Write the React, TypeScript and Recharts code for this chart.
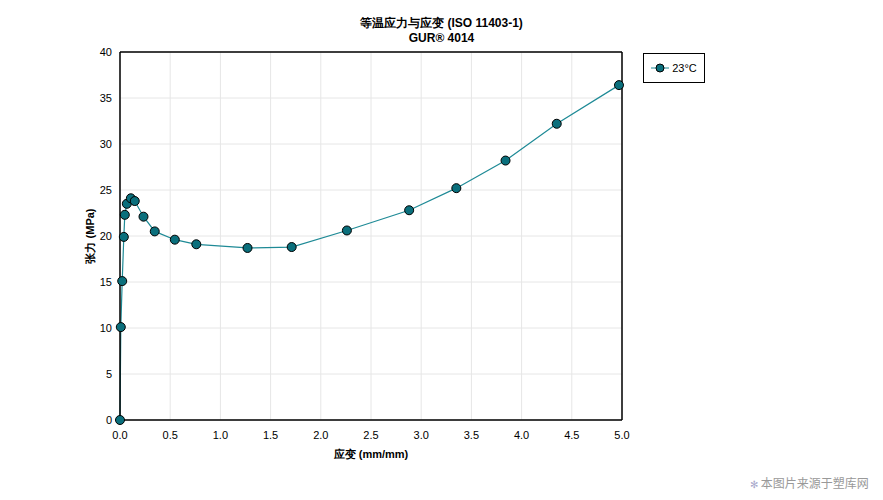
import { LineChart, Line, XAxis, YAxis, CartesianGrid, ReferenceLine } from "recharts";

const strain = [0, 0.008, 0.022, 0.038, 0.048, 0.068, 0.108, 0.147, 0.234, 0.346, 0.546, 0.76, 1.27, 1.71, 2.26, 2.88, 3.35, 3.84, 4.35, 4.97];
const stress = [0, 10.1, 15.1, 19.9, 22.3, 23.5, 24.1, 23.8, 22.1, 20.5, 19.6, 19.1, 18.7, 18.8, 20.6, 22.8, 25.2, 28.2, 32.2, 36.4];
const xTicks = [0, 0.5, 1, 1.5, 2, 2.5, 3, 3.5, 4, 4.5, 5];
const yTicks = [0, 5, 10, 15, 20, 25, 30, 35, 40];

const data = strain.map((x, i) => ({ x, y: stress[i] }));

const font = "'Liberation Sans', Arial, sans-serif";

export default function App() {
  return (
    <div style={{ position: "absolute", left: 0, top: 0, width: 883, height: 500, background: "#fff", fontFamily: font }}>
      <div style={{ position: "absolute", top: 16, width: 883, textAlign: "center", fontSize: 12, fontWeight: "bold", lineHeight: "15px", color: "#000" }}>
        等温应力与应变 (ISO 11403-1)
        <br />
        GUR® 4014
      </div>
      <LineChart width={883} height={500} data={data} margin={{ top: 52, right: 261, bottom: 50, left: 70 }}>
        <CartesianGrid stroke="#e6e6e6" />
        <XAxis
          dataKey="x"
          type="number"
          domain={[0, 5]}
          ticks={xTicks}
          tickFormatter={(v) => Number(v).toFixed(1)}
          tickLine={false}
          axisLine={{ stroke: "#000", strokeWidth: 1.5 }}
          tick={{ fontSize: 11, fill: "#000", fontFamily: font, dy: 3 }}
          height={30}
          label={{ value: "应变 (mm/mm)", position: "insideBottom", offset: -8, fontSize: 11, fontWeight: "bold", fill: "#000", fontFamily: font }}
        />
        <YAxis
          dataKey="y"
          type="number"
          domain={[0, 40]}
          ticks={yTicks}
          tickLine={false}
          axisLine={{ stroke: "#000", strokeWidth: 1.5 }}
          tick={{ fontSize: 11, fill: "#000", fontFamily: font }}
          width={50}
          label={{ value: "张力 (MPa)", angle: -90, position: "insideLeft", offset: 20, fontSize: 11, fontWeight: "bold", fill: "#000", fontFamily: font, style: { textAnchor: "middle" } }}
        />
        <ReferenceLine y={40} stroke="#000" strokeWidth={1.5} />
        <ReferenceLine x={5} stroke="#000" strokeWidth={1.5} />
        <Line
          dataKey="y"
          name="23°C"
          stroke="#1e8a96"
          strokeWidth={1.2}
          dot={{ r: 4.5, fill: "#0a6f7c", stroke: "#000", strokeWidth: 1 }}
          isAnimationActive={false}
        />
      </LineChart>
      <div style={{ position: "absolute", left: 643, top: 53, border: "1px solid #000", width: 62, height: 30, display: "flex", alignItems: "center", justifyContent: "center", fontSize: 11, fontFamily: font, background: "#fff", boxSizing: "border-box" }}>
        <svg width={18} height={10} style={{ marginRight: 3 }}>
          <line x1={0} y1={5} x2={18} y2={5} stroke="#1e8a96" strokeWidth={1} />
          <circle cx={9} cy={5} r={4} fill="#0a6f7c" stroke="#000" strokeWidth={1} />
        </svg>
        23°C
      </div>
      <div style={{ position: "absolute", left: 750, top: 474, fontSize: 12, color: "#999", fontFamily: "'Noto Sans CJK SC', sans-serif" }}>
        <span style={{ color: "#aac", fontSize: 10 }}>✻</span> 本图片来源于塑库网
      </div>
    </div>
  );
}
